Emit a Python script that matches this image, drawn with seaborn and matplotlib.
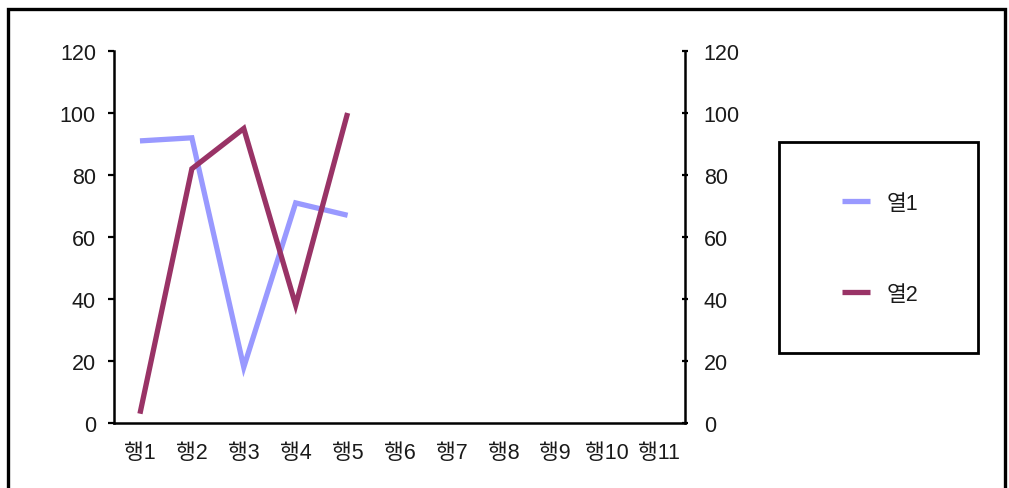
import matplotlib
matplotlib.use("Agg")
import matplotlib.pyplot as plt
from matplotlib.patches import Rectangle
from matplotlib.lines import Line2D
import seaborn as sns
import pandas as pd

# Row labels and the two column series
categories = ["행1", "행2", "행3", "행4", "행5", "행6", "행7", "행8", "행9", "행10", "행11"]
col1_values = [91, 92, 18, 71, 67]
col2_values = [3, 82, 95, 38, 100]
series_names = ["열1", "열2"]
series_colors = ["#9999FF", "#993366"]
y_ticks = [0, 20, 40, 60, 80, 100, 120]

sns.set_theme(style="white")
plt.rcParams["font.family"] = ["Liberation Sans", "Noto Sans CJK KR", "DejaVu Sans"]

W, H = 1009, 489
fig = plt.figure(figsize=(W / 100, H / 100), dpi=100)
fig.patch.set_facecolor("white")

# Outer chart border (bottom edge runs past the image)
fig.add_artist(Rectangle((8 / W, -0.05), (1005 - 8) / W, (H - 10) / H + 0.05,
                         transform=fig.transFigure, fill=False,
                         edgecolor="black", linewidth=2.4))

ax = fig.add_axes([114 / W, (H - 424) / H, (685 - 114) / W, (424 - 52) / H])
ax2 = ax.twinx()

df1 = pd.DataFrame({"row": list(range(len(col1_values))), "value": col1_values})
df2 = pd.DataFrame({"row": list(range(len(col2_values))), "value": col2_values})
sns.lineplot(data=df1, x="row", y="value", ax=ax, color=series_colors[0],
             linewidth=3.8, solid_joinstyle="miter", solid_capstyle="butt")
sns.lineplot(data=df2, x="row", y="value", ax=ax2, color=series_colors[1],
             linewidth=3.8, solid_joinstyle="miter", solid_capstyle="butt")

for a in (ax, ax2):
    a.set_xlim(-0.5, len(categories) - 0.5)
    a.set_ylim(0, 120)
    a.set_yticks(y_ticks)
    a.set_xlabel("")
    a.set_ylabel("")
    a.grid(False)
    a.set_facecolor("none")
    for s in a.spines.values():
        s.set_visible(False)

ax.set_xticks(range(len(categories)))
ax.set_xticklabels(categories)
ax.spines["left"].set_visible(True)
ax.spines["bottom"].set_visible(True)
ax2.spines["right"].set_visible(True)
for s in (ax.spines["left"], ax.spines["bottom"], ax2.spines["right"]):
    s.set_color("black")
    s.set_linewidth(1.8)

FS = 15.5
ax.tick_params(axis="x", length=0, pad=14, labelsize=FS, colors="#1a1a1a")
ax.tick_params(axis="y", direction="out", length=4, width=1.6, color="black",
               pad=9, labelsize=FS, labelcolor="#1a1a1a", left=True)
ax2.tick_params(axis="y", direction="inout", length=5, width=1.6, color="black",
                pad=11, labelsize=FS, labelcolor="#1a1a1a", right=True)

# Legend box
fig.add_artist(Rectangle((779 / W, (H - 354) / H), (978 - 779) / W, (354 - 143) / H,
                         transform=fig.transFigure, fill=False,
                         edgecolor="black", linewidth=2.0))
handles = [Line2D([], [], color=c, linewidth=3.8, solid_capstyle="butt")
           for c in series_colors]
fig.legend(handles, series_names, loc="center",
           bbox_to_anchor=(880 / W, (H - 250) / H), frameon=False,
           fontsize=FS, handlelength=1.3, handletextpad=0.75, labelspacing=3.25,
           labelcolor="#1a1a1a")

fig.savefig("out.png", dpi=100, facecolor="white")
